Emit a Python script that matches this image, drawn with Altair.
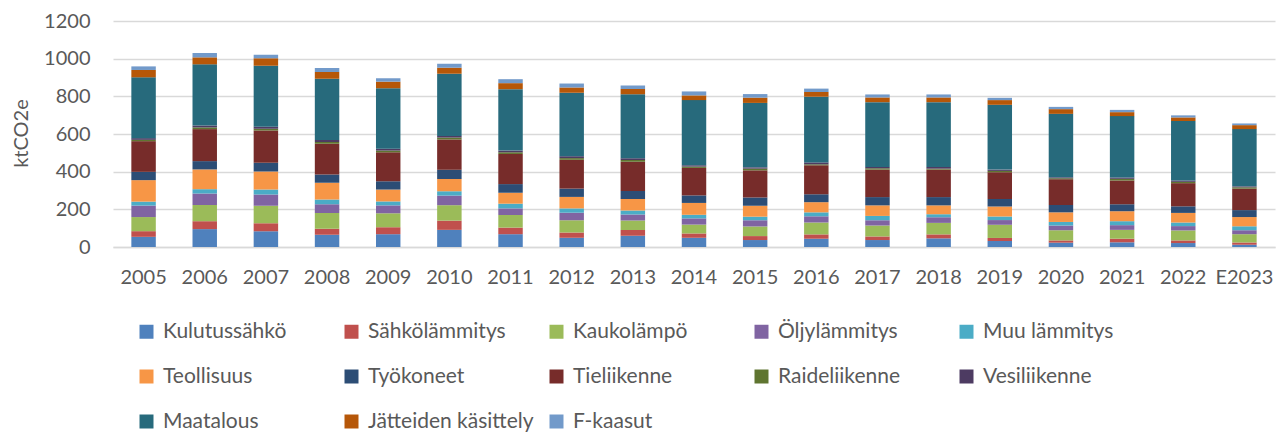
import altair as alt
import pandas as pd

years = ["2005", "2006", "2007", "2008", "2009", "2010", "2011", "2012", "2013", "2014",
         "2015", "2016", "2017", "2018", "2019", "2020", "2021", "2022", "E2023"]

series = ["Kulutussähkö", "Sähkölämmitys", "Kaukolämpö", "Öljylämmitys", "Muu lämmitys",
          "Teollisuus", "Työkoneet", "Tieliikenne", "Raideliikenne", "Vesiliikenne",
          "Maatalous", "Jätteiden käsittely", "F-kaasut"]

colors = ["#4F81BD", "#C0504D", "#9BBB59", "#8064A2", "#4BACC6",
          "#F79646", "#2C4D75", "#772C2A", "#5F7530", "#4D3B62",
          "#276A7C", "#B65708", "#729ACA"]

kulutussahko = [54, 95, 84, 65, 68, 91, 68, 49, 60, 49, 37, 44, 37, 46, 32, 23, 25, 21, 12]
sahkolammitys = [30, 42, 42, 32, 37, 49, 35, 28, 30, 23, 21, 23, 19, 21, 16, 12, 19, 14, 12]
kaukolampo = [75, 86, 93, 84, 74, 82, 67, 65, 51, 47, 51, 63, 58, 61, 70, 54, 47, 53, 44]
oljylammitys = [61, 61, 60, 46, 42, 51, 35, 40, 32, 33, 33, 33, 28, 30, 25, 25, 25, 23, 21]
muu_lammitys = [21, 23, 26, 25, 21, 23, 25, 23, 21, 19, 19, 21, 23, 16, 19, 19, 21, 19, 21]
teollisuus = [114, 105, 96, 89, 63, 65, 58, 61, 61, 63, 58, 54, 56, 47, 53, 51, 53, 51, 49]
tyokoneet = [44, 44, 47, 44, 44, 49, 46, 44, 42, 40, 44, 42, 44, 44, 40, 39, 37, 35, 37]
tieliikenne = [163, 170, 170, 163, 154, 161, 160, 153, 156, 146, 144, 154, 146, 146, 142, 137, 126, 123, 114]
raideliikenne = [7, 9, 10, 10, 9, 10, 9, 9, 9, 7, 9, 5, 7, 5, 7, 5, 9, 7, 7]
vesiliikenne = [9, 10, 10, 10, 10, 9, 9, 10, 9, 7, 7, 10, 7, 9, 7, 5, 7, 7, 5]
maatalous = [323, 325, 325, 326, 321, 330, 326, 337, 340, 346, 342, 349, 344, 344, 344, 337, 326, 316, 304]
jatteet = [39, 37, 39, 35, 35, 32, 32, 28, 28, 25, 28, 25, 25, 25, 25, 25, 21, 19, 21]
f_kaasut = [19, 23, 19, 21, 18, 21, 21, 21, 19, 21, 19, 18, 16, 16, 12, 12, 12, 11, 9]

values = [kulutussahko, sahkolammitys, kaukolampo, oljylammitys, muu_lammitys,
          teollisuus, tyokoneet, tieliikenne, raideliikenne, vesiliikenne,
          maatalous, jatteet, f_kaasut]

rows = []
for i, (name, vals) in enumerate(zip(series, values)):
    for y, v in zip(years, vals):
        rows.append({"Vuosi": y, "Sektori": name, "Arvo": v, "idx": i})
df = pd.DataFrame(rows)

FONT = "Lato"
GREY = "#595959"

chart = alt.Chart(df).mark_bar().encode(
    x=alt.X("Vuosi:N", sort=years,
            scale=alt.Scale(paddingInner=0.6, paddingOuter=0.3),
            axis=alt.Axis(title=None, labelAngle=0, labelFontSize=20, labelColor=GREY,
                          labelFont=FONT, ticks=False, labelPadding=20,
                          domainColor="#d9d9d9", domainWidth=1.5)),
    y=alt.Y("Arvo:Q", stack="zero",
            scale=alt.Scale(domain=[0, 1200], nice=False),
            axis=alt.Axis(values=[0, 200, 400, 600, 800, 1000, 1200], format="d",
                          title="ktCO2e",
                          labelFontSize=20, labelColor=GREY, labelFont=FONT,
                          ticks=False, domain=False, labelPadding=23,
                          gridColor="#d9d9d9", gridWidth=1.5,
                          titleFont=FONT, titleFontSize=20, titleColor=GREY,
                          titleFontWeight="normal", titleAngle=270,
                          titleX=-92, titleY=112, titleAlign="center",
                          titleBaseline="middle")),
    color=alt.Color("Sektori:N",
                    scale=alt.Scale(domain=series, range=colors),
                    legend=alt.Legend(title=None, orient="none", legendX=23, legendY=300,
                                      direction="horizontal",
                                      columns=5, gridAlign="all", columnPadding=12,
                                      rowPadding=23, symbolType="square", symbolSize=196,
                                      symbolStrokeWidth=0, labelFontSize=21,
                                      labelFont=FONT, labelColor=GREY, labelOffset=6,
                                      labelLimit=300)),
    order=alt.Order("idx:Q", sort="ascending"),
).properties(
    width=1162,
    height=226,
    autosize=alt.AutoSizeParams(type="none"),
    padding={"left": 105, "top": 13, "right": 1, "bottom": 188},
).configure_view(stroke=None)

chart.save("out.html", embed_options={"renderer": "svg", "actions": False})
